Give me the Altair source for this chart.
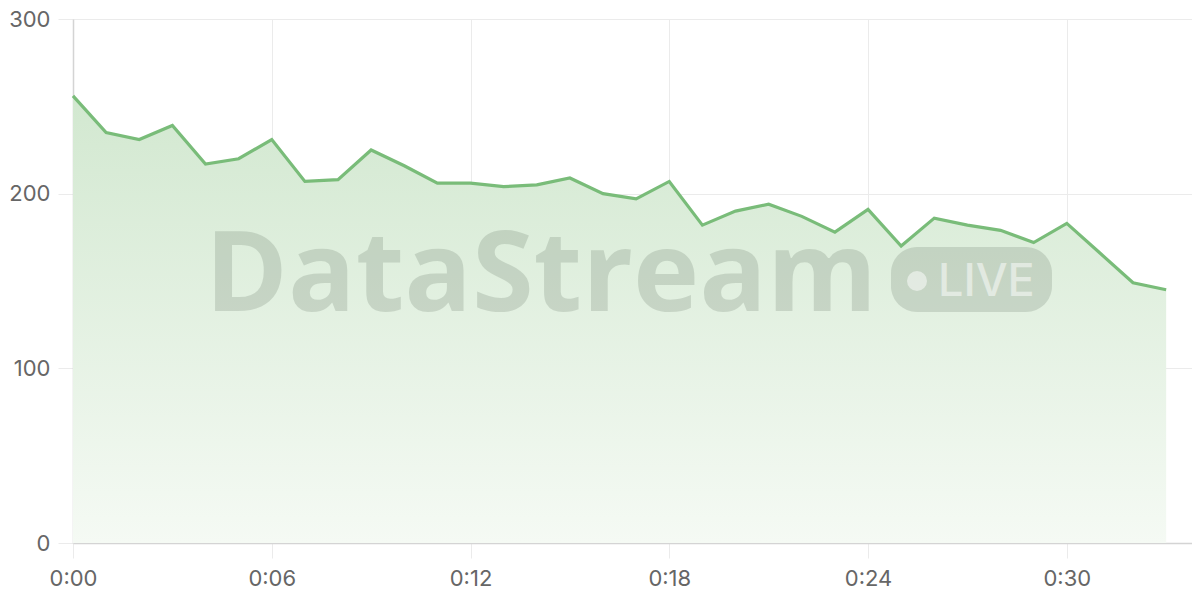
import altair as alt
import pandas as pd

minutes = list(range(34))
values = [256, 235, 231, 239, 217, 220, 231, 207, 208, 225, 216, 206, 206, 204, 205,
          209, 200, 197, 207, 182, 190, 194, 187, 178, 191, 170, 186, 182, 179, 172,
          183, 166, 149, 145]
x_ticks = [0, 6, 12, 18, 24, 30]
y_ticks = [0, 100, 200, 300]

df = pd.DataFrame({"t": minutes, "v": values})

W, H = 1119, 524
xs = alt.Scale(domain=[0, 33.78], nice=False)
ys = alt.Scale(domain=[0, 300], nice=False)

x_axis = alt.Axis(values=x_ticks, title=None, labelFlush=False,
                  labelExpr="'0:' + (datum.value < 10 ? '0' : '') + datum.value",
                  grid=True, gridColor="#ebebeb", tickColor="#ebebeb", tickSize=15,
                  domainColor="#d4d4d4", domainWidth=1.5, labelPadding=10,
                  labelFontSize=22, labelColor="#666666", labelFont="Inter")
y_axis = alt.Axis(values=y_ticks, title=None, labelFlush=False,
                  grid=True, gridColor="#ebebeb", tickColor="#ebebeb", tickSize=15,
                  domainColor="#d4d4d4", domainWidth=1.5, labelPadding=8,
                  labelFontSize=22, labelColor="#666666", labelFont="Inter")

base = alt.Chart(df)

area = base.mark_area(
    color=alt.Gradient(
        gradient="linear", x1=0, y1=0, x2=0, y2=1,
        stops=[alt.GradientStop(color="#d2e8d0", offset=0),
               alt.GradientStop(color="#f5faf4", offset=1)],
    ),
    interpolate="linear",
).encode(
    x=alt.X("t:Q", scale=xs, axis=x_axis),
    y=alt.Y("v:Q", scale=ys, axis=y_axis),
)

wm_df = pd.DataFrame({"label": ["DataStream"]})
wm_text = alt.Chart(wm_df).mark_text(
    font="Open Sans", fontWeight="bold", fontSize=112, align="center",
    baseline="alphabetic", color="#5a6a5a", opacity=0.2,
).encode(x=alt.value(468), y=alt.value(292), text="label:N")

badge = alt.Chart(wm_df).mark_rect(
    color="#5a6a5a", opacity=0.2, cornerRadius=26,
).encode(x=alt.value(818), x2=alt.value(979), y=alt.value(228), y2=alt.value(293))

dot = alt.Chart(wm_df).mark_point(
    shape="circle", filled=True, color="#ffffff", opacity=0.5, size=400,
).encode(x=alt.value(844), y=alt.value(262))

live_df = pd.DataFrame({"label": ["LIVE"]})
live = alt.Chart(live_df).mark_text(
    font="Inter", fontWeight=500, fontSize=45, align="left", baseline="alphabetic",
    color="#ffffff", opacity=0.5,
).encode(x=alt.value(865), y=alt.value(277), text="label:N")

line = base.mark_line(color="#79bc79", strokeWidth=3.2).encode(
    x=alt.X("t:Q", scale=xs),
    y=alt.Y("v:Q", scale=ys),
)

chart = alt.layer(area, wm_text, badge, dot, live, line).properties(
    width=W, height=H, autosize="none",
    padding={"left": 65, "top": 11, "right": 0, "bottom": 50},
).configure_view(stroke=None).configure(background="#ffffff")

chart.save("out.html", embed_options={"renderer": "svg", "actions": False})
